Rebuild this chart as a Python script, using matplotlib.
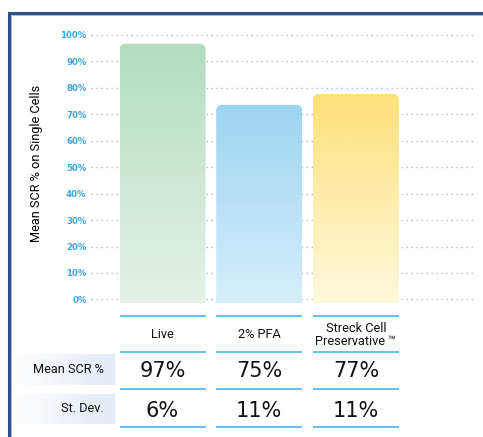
import numpy as np
import matplotlib
matplotlib.use("Agg")
import matplotlib.pyplot as plt
from matplotlib.patches import FancyBboxPatch
from matplotlib.colors import to_rgb
import matplotlib.transforms as mtrans

# ---------------- data ----------------
categories = ["Live", "2% PFA", "Streck Cell\nPreservative \u2122"]
bar_values = [96.6, 73.5, 77.6]
mean_scr_labels = ["97%", "75%", "77%"]
st_dev_labels = ["6%", "11%", "11%"]
row_labels = ["Mean SCR %", "St. Dev."]
yticks = [0, 10, 20, 30, 40, 50, 60, 70, 80, 90, 100]
ytick_labels = [f"{v}%" for v in yticks]
top_colors = ["#b2dcc0", "#9dd4f1", "#fee07a"]
bottom_colors = ["#e4f2e8", "#d6eefb", "#fef9dc"]

W, H = 483, 437
fig = plt.figure(figsize=(W / 100, H / 100), dpi=100)

NARROW = ["Roboto", "DejaVu Sans"]

def fx(px):
    return px / W

def fy(py):
    return (H - py) / H

# ---------------- main bar axes ----------------
left_px, right_px = 90.7, 475.0
top_px, bot_px = 33.9, 302.9
ax = fig.add_axes([fx(left_px), fy(bot_px), fx(right_px) - fx(left_px), fy(top_px) - fy(bot_px)])
ax.set_facecolor("none")
for s in ax.spines.values():
    s.set_visible(False)

x = np.arange(len(categories))
px_per_unit = 96.7
x0 = (left_px - 162.5) / px_per_unit
x1 = (right_px - 162.5) / px_per_unit
ylo, yhi = -1.3, 100.3
bar_w = 86 / px_per_unit

# gridlines
for v in yticks:
    ax.axhline(v, color="#b9b9b9", lw=1.0, linestyle=(0, (1, 2.6)), zorder=0)

px_per_y = (bot_px - top_px) / (yhi - ylo)
aspect = (1 / px_per_y) / (1 / px_per_unit)
r = 6 / px_per_unit
for i, (xi, val) in enumerate(zip(x, bar_values)):
    patch = FancyBboxPatch((xi - bar_w / 2, ylo - 10), bar_w, val - (ylo - 10),
                           boxstyle=f"round,pad=0,rounding_size={r}",
                           mutation_aspect=aspect, facecolor="none",
                           edgecolor="none", transform=ax.transData)
    ax.add_patch(patch)
    t = np.linspace(0, 1, 256)[:, None]
    c_top = np.array(to_rgb(top_colors[i]))
    c_bot = np.array(to_rgb(bottom_colors[i]))
    grad = c_top[None, None, :] * (1 - t[..., None]) + c_bot[None, None, :] * t[..., None]
    im = ax.imshow(grad, extent=(xi - bar_w / 2, xi + bar_w / 2, ylo, val),
                   origin="upper", aspect="auto", zorder=2, interpolation="bilinear")
    im.set_clip_path(patch)

ax.set_xlim(x0, x1)
ax.set_ylim(ylo, yhi)
ax.set_xticks([])
ax.set_yticks(yticks)
ax.set_yticklabels(ytick_labels, color="#3aa9e2", fontsize=6.2, fontweight="bold")
ax.tick_params(axis="y", length=0, pad=3)
ax.set_ylabel("Mean SCR % on Single Cells", fontsize=9.2, color="black",
              family=NARROW)
ax_w = fx(right_px) - fx(left_px)
ax_h = fy(top_px) - fy(bot_px)
ax.yaxis.set_label_coords((fx(43) - fx(left_px)) / ax_w, (fy(163) - fy(bot_px)) / ax_h)

# ---------------- overlay for table / frame ----------------
ov = fig.add_axes([0, 0, 1, 1], zorder=5)
ov.set_xlim(0, W)
ov.set_ylim(H, 0)
ov.axis("off")
ov.set_facecolor("none")

# frame
ov.plot([9, 9, W + 5], [H + 5, 13, 13], color="#2f4f86", lw=2.2, solid_joinstyle="miter")
ov.plot([10.6, 10.6, W + 5], [H + 5, 14.6, 14.6], color="#9db0cf", lw=0.6)

bt = mtrans.blended_transform_factory(ax.transData, ov.transData)
line_y = [315.7, 352.0, 389.0, 426.7]
for xi in x:
    for ly in line_y:
        ov.plot([xi - bar_w / 2, xi + bar_w / 2], [ly, ly], color="#62c1ec", lw=1.4,
                transform=bt, solid_capstyle="butt")

for xi, cat in zip(x, categories):
    ov.text(xi, 335, cat, transform=bt, ha="center", va="center", fontsize=9.2,
            family=NARROW, linespacing=1.0, color="#111111")

for xi, m, s in zip(x, mean_scr_labels, st_dev_labels):
    ov.text(xi, 371, m, transform=bt, ha="center", va="center", fontsize=15, color="#111111")
    ov.text(xi, 411, s, transform=bt, ha="center", va="center", fontsize=15, color="#111111")

# row label boxes with horizontal gradient
row_boxes = [(354, 385), (394, 424)]
hg = np.linspace(0, 1, 256)[None, :, None]
c_l = np.array(to_rgb("#ffffff"))
c_r = np.array(to_rgb("#e2eaf5"))
hgrad = c_l * (1 - hg) + c_r * hg
for (ya, yb), lab in zip(row_boxes, row_labels):
    ov.imshow(hgrad, extent=(12, 115, yb, ya), origin="upper", aspect="auto",
              interpolation="bilinear", zorder=1)
    ov.text(104, (ya + yb) / 2, lab, ha="right", va="center", fontsize=9.2,
            family=NARROW, color="#111111", zorder=2)
ov.set_xlim(0, W)
ov.set_ylim(H, 0)

fig.savefig("out.png", dpi=100)
